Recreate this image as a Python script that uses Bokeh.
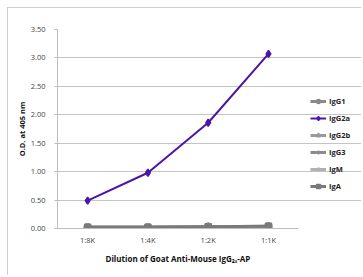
import numpy as np
from bokeh.plotting import figure
from bokeh.models import Legend, LegendItem, FixedTicker, NumeralTickFormatter, Title
from bokeh.embed import file_html
from bokeh.resources import INLINE

dilutions = ["1:8K", "1:4K", "1:2K", "1:1K"]
igg1 = [0.02, 0.02, 0.03, 0.04]
igg2a = [0.49, 0.98, 1.86, 3.07]
igg2b = [0.02, 0.02, 0.03, 0.03]
igg3 = [0.02, 0.02, 0.02, 0.03]
igm = [0.01, 0.02, 0.02, 0.03]
iga = [0.02, 0.02, 0.03, 0.04]
series_names = ["IgG1", "IgG2a", "IgG2b", "IgG3", "IgM", "IgA"]

FONT = "Open Sans"

xpos = list(np.arange(len(dilutions)) + 0.5)
ncat = len(dilutions)

p = figure(width=354, height=268, x_range=(0, 5.06), y_range=(0, 3.5),
           output_backend="svg", toolbar_location=None,
           min_border_left=49, min_border_right=0, min_border_top=21, min_border_bottom=48)
p.margin = (7, 0, 0, 7)
p.styles = {"border-left": "1px solid #cfcfcf", "border-top": "1px solid #cfcfcf"}
p.outline_line_color = None
p.background_fill_color = "white"

p.xgrid.grid_line_color = None
p.ygrid.grid_line_color = "#c4c4c4"
p.ygrid.grid_line_width = 1
p.ygrid.bounds = (0, ncat)
p.yaxis.ticker = FixedTicker(ticks=[0, 0.5, 1, 1.5, 2, 2.5, 3, 3.5])
p.yaxis.formatter = NumeralTickFormatter(format="0.00")
p.xaxis.ticker = FixedTicker(ticks=xpos)
p.xaxis.major_label_overrides = {x: d for x, d in zip(xpos, dilutions)}
p.xaxis.bounds = (0, ncat)

for ax in (p.xaxis[0], p.yaxis[0]):
    ax.axis_line_color = "#bdbdbd"
    ax.major_tick_line_color = "#bdbdbd"
    ax.minor_tick_line_color = None
    ax.major_label_text_font = FONT
    ax.major_label_text_font_size = "7.5px"
    ax.major_label_text_color = "#444444"
    ax.axis_label_text_font = FONT
    ax.axis_label_text_font_size = "7.5px"
    ax.axis_label_text_font_style = "bold"
    ax.axis_label_text_color = "#111111"
p.yaxis.major_tick_in = 0
p.yaxis.major_tick_out = 3
p.xaxis.major_tick_in = 0
p.xaxis.major_tick_out = 0
p.yaxis.major_label_standoff = 9
p.xaxis.major_label_standoff = 6
p.yaxis.axis_label = "O.D. at 405 nm"
p.yaxis.axis_label_standoff = 1

xtitle = Title(text="Dilution of Goat Anti-Mouse IgG\u2082\u2090-AP", align="left",
               offset=48, text_font=FONT, text_font_size="8px",
               text_font_style="bold", text_color="#111111", standoff=6)
p.add_layout(xtitle, "below")

styles = [
    ("IgG1", igg1, "#8a8a8a", "circle", 7),
    ("IgG2a", igg2a, "#4b16a8", "diamond", 7),
    ("IgG2b", igg2b, "#9a9a9a", "triangle", 7),
    ("IgG3", igg3, "#8c8c8c", "cross", 7),
    ("IgM", igm, "#b0b0b0", "asterisk", 7),
    ("IgA", iga, "#7a7a7a", "square", 6),
]

items = []
for name, vals, color, marker, size in styles:
    lw = 2 if name == "IgG2a" else 3
    r1 = p.line(xpos, vals, line_color=color, line_width=lw)
    r2 = p.scatter(xpos, vals, marker=marker, size=size, fill_color=color,
                   line_color=color, line_width=1.5)
    items.append(LegendItem(label=name, renderers=[r1, r2]))

legend = Legend(items=items, location=(253, 37), orientation="vertical",
                label_text_font=FONT, label_text_font_size="7.5px",
                label_text_font_style="bold", label_text_color="#222222",
                glyph_width=16, glyph_height=10, spacing=7, padding=0,
                margin=0, label_standoff=3, border_line_color=None,
                background_fill_alpha=0)
p.add_layout(legend, "center")

open("out.html", "w").write(file_html(p, INLINE))
